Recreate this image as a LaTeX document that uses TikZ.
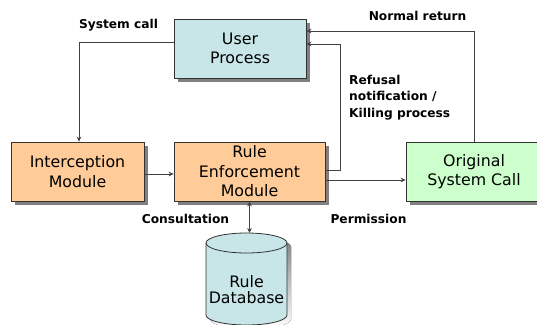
\documentclass[tikz,border=0pt]{standalone}
\usepackage{fontspec}
\setmainfont{DejaVu Sans}
\usetikzlibrary{arrows.meta,shadows}
\definecolor{procfill}{HTML}{C8E6E8}
\definecolor{modfill}{HTML}{FFCC99}
\definecolor{callfill}{HTML}{CCFFCC}
\definecolor{edge}{HTML}{333333}
\definecolor{wire}{HTML}{404040}
\definecolor{shade}{HTML}{808080}
\tikzset{
  box/.style={draw=edge, line width=0.8pt, minimum height=59pt, align=center,
    inner sep=0pt, font=\fontsize{15.8}{19.5}\selectfont,
    drop shadow={shadow xshift=4pt, shadow yshift=-4pt, fill=shade, opacity=1}},
  lbl/.style={font=\bfseries\fontsize{12.2}{16.5}\selectfont, inner sep=0pt},
  tip/.style={Stealth[length=5pt,width=4.6pt]},
  arr/.style={draw=wire, line width=1pt, -{Stealth[length=5pt,width=4.6pt]}},
  arrs/.style={draw=wire, line width=1pt, {Stealth[length=5pt,width=4.6pt]}-{Stealth[length=5pt,width=4.6pt]}}
}
\begin{document}
\begin{tikzpicture}[x=1pt, y=-1pt]
\path[use as bounding box, clip] (0,0) rectangle (537,324);
\fill[white] (0,0) rectangle (537,324);

% process and modules
\node[box, fill=procfill, minimum width=132pt] (user) at (240,48.5) {User\\Process};
\node[box, fill=modfill, minimum width=133pt] (intc) at (77.5,171.5) {Interception\\Module};
\node[box, fill=modfill, minimum width=151pt] (rule) at (249.5,171.5) {Rule\\Enforcement\\Module};
\node[box, fill=callfill, minimum width=136pt] (orig) at (474,171.5) {Original\\System Call};

% rule database cylinder
\fill[shade] (210,247) -- (210,319) arc (180:0:40.5 and 10) -- (291,247) arc (0:-180:40.5 and 10) -- cycle;
\filldraw[fill=procfill, draw=edge, line width=0.8pt]
  (206,243) -- (206,315) arc (180:0:40.5 and 10) -- (287,243) arc (0:-180:40.5 and 10) -- cycle;
\draw[edge, line width=0.8pt] (206,243) arc (180:0:40.5 and 10);
\coordinate (dbtop) at (246.5,233);
\node[align=center, inner sep=0pt, font=\fontsize{15.8}{15.5}\selectfont] (db) at (246.5,289.5) {Rule\\Database};

% connectors
\draw[arr] ([yshift=6.5pt]user.west) -| ([xshift=1.5pt]intc.north);
\draw[arr] (orig.north) |- ([yshift=17.5pt]user.east);
\draw[arr] ([yshift=1.5pt]rule.east) -- ++(15,0) |- ([yshift=4.5pt]user.east);
\draw[arr] ([yshift=-2.5pt]intc.east) -- ([yshift=-2.5pt]rule.west);
\draw[arr] ([yshift=-8.5pt]rule.east) -- ([yshift=-8.5pt]orig.west);
\draw[arrs] (rule.south) -- (rule.south |- dbtop);

% labels
\node[lbl] (lsys) at (118.5,25) {System call};
\node[lbl] (lret) at (417.5,16) {Normal return};
\node[lbl, anchor=north west, align=left] (lref) at (349,75) {Refusal\\notification /\\Killing process};
\node[lbl] (lcons) at (185.5,219) {Consultation};
\node[lbl] (lperm) at (368.5,219) {Permission};
\end{tikzpicture}
\end{document}
